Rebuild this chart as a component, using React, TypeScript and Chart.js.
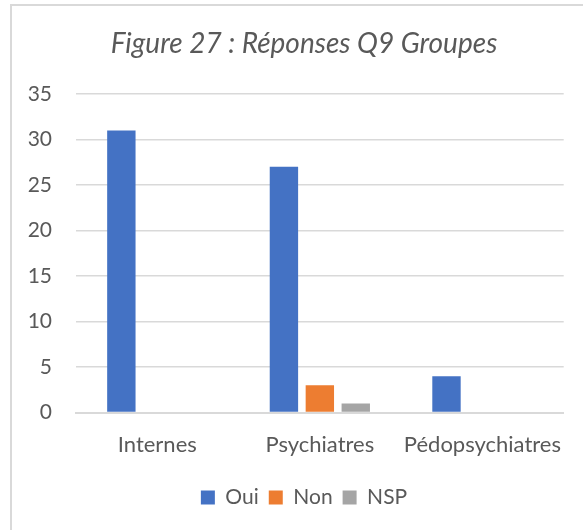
import React, { useEffect, useRef } from "react";
import { Chart, registerables } from "chart.js";

Chart.register(...registerables);

const categories = ["Internes", "Psychiatres", "Pédopsychiatres"];
const seriesNames = ["Oui", "Non", "NSP"];
const oui = [31, 27, 4];
const non = [0, 3, 0];
const nsp = [0, 1, 0];
const yMin = 0;
const yMax = 35;
const yStep = 5;
const titleText = "Figure 27 : Réponses Q9 Groupes";

const colors = ["#4472C4", "#ED7D31", "#A5A5A5"];
const textColor = "#595959";
const fontFamily = "Lato";

const widenYLabelArea = {
  id: "widenYLabelArea",
  afterLayout(chart: any) {
    const y = chart.scales.y;
    if (y) y.left = 0;
  },
};

export default function App() {
  const ref = useRef<HTMLCanvasElement>(null);
  useEffect(() => {
    const values = [oui, non, nsp];
    const chart = new Chart(ref.current!, {
      type: "bar",
      data: {
        labels: categories,
        datasets: seriesNames.map((name, i) => ({
          label: name,
          data: values[i],
          backgroundColor: colors[i],
          borderWidth: 0,
          categoryPercentage: 0.663,
          barPercentage: 0.79,
        })),
      },
      options: {
        responsive: false,
        animation: false,
        devicePixelRatio: 1,
        layout: { padding: { left: 43, right: 18, top: 0, bottom: 12 } },
        plugins: {
          title: {
            display: true,
            text: titleText,
            color: textColor,
            font: { family: fontFamily, size: 28, style: "italic", weight: "normal", lineHeight: 1.2 },
            padding: { top: 27, bottom: 33.4 },
          },
          legend: {
            position: "bottom",
            labels: {
              boxWidth: 14,
              boxHeight: 14,
              color: textColor,
              padding: 10,
              font: { family: fontFamily, size: 21 },
            },
          },
          tooltip: { enabled: false },
        },
        scales: {
          x: {
            grid: { display: false, drawTicks: false },
            border: { color: "#D9D9D9", width: 2 },
            ticks: {
              color: textColor,
              padding: 19,
              maxRotation: 0,
              minRotation: 0,
              autoSkip: false,
              font: { family: fontFamily, size: 22, lineHeight: 1.2 },
            },
          },
          y: {
            min: yMin,
            max: yMax,
            ticks: { stepSize: yStep, color: textColor, padding: 24, font: { family: fontFamily, size: 21 } },
            grid: { color: "#D9D9D9", lineWidth: 1.5, drawTicks: false },
            border: { display: false },
            afterFit: (s: any) => {
              s.width = 33;
            },
          },
        },
      },
      plugins: [widenYLabelArea],
    });
    return () => chart.destroy();
  }, []);

  return (
    <div
      style={{
        position: "fixed",
        left: 0,
        top: 0,
        width: 583,
        height: 530,
        overflow: "hidden",
        background: "#ffffff",
      }}
    >
      <div
        style={{
          position: "absolute",
          left: 10,
          top: 4,
          width: 620,
          height: 600,
          border: "2px solid #D9D9D9",
          boxSizing: "border-box",
        }}
      />
      <canvas ref={ref} width={583} height={530} style={{ position: "absolute", left: 0, top: 0 }} />
    </div>
  );
}
